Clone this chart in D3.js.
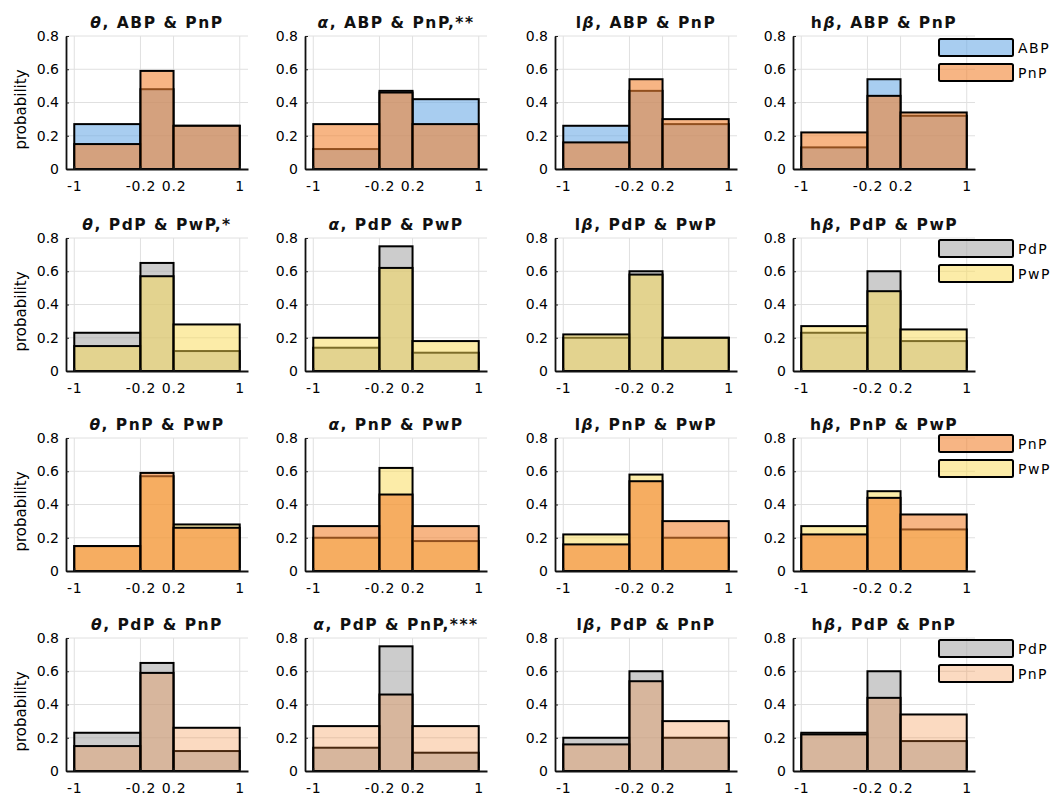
<!DOCTYPE html>
<html>
<head>
<meta charset="UTF-8">
<title>Histograms</title>
<style>
  body { margin: 0; background: #fff; }
  text { font-family: "DejaVu Sans", sans-serif; fill: #111; }
</style>
</head>
<body>
<div id="chart"></div>
<script src="https://d3js.org/d3.v7.min.js"></script>
<script>
// columns = bands, bins are the same everywhere
var bands = ["θ", "α", "lβ", "hβ"];
var binEdges = [-1, -0.2, 0.2, 1];
var xTicks = [-1, -0.2, 0.2, 1];
var yTicks = [0, 0.2, 0.4, 0.6, 0.8];

// probability of each bin, one line per band (θ, α, lβ, hβ)
var ABP = [[0.27, 0.48, 0.26], [0.12, 0.47, 0.42], [0.26, 0.47, 0.27], [0.13, 0.54, 0.32]];
var PnP = [[0.15, 0.59, 0.26], [0.27, 0.46, 0.27], [0.16, 0.54, 0.30], [0.22, 0.44, 0.34]];
var PdP = [[0.23, 0.65, 0.12], [0.14, 0.75, 0.11], [0.20, 0.60, 0.20], [0.23, 0.60, 0.18]];
var PwP = [[0.15, 0.57, 0.28], [0.20, 0.62, 0.18], [0.22, 0.58, 0.20], [0.27, 0.48, 0.25]];
var groups = { ABP: ABP, PnP: PnP, PdP: PdP, PwP: PwP };

// rows: pair in the title, drawing order (first is under), legend order
var rowTitles = ["ABP & PnP", "PdP & PwP", "PnP & PwP", "PdP & PnP"];
var rowOrder = [["ABP", "PnP"], ["PdP", "PwP"], ["PwP", "PnP"], ["PdP", "PnP"]];
var rowLegend = [["ABP", "PnP"], ["PdP", "PwP"], ["PnP", "PwP"], ["PdP", "PnP"]];
var stars = [["", ",**", "", ""], [",*", "", "", ""], ["", "", "", ""], ["", ",***", "", ""]];

// look
var fills = { ABP: "#6eace6", PnP: "#f28432", PdP: "#aaaaaa", PwP: "#f9d951" };
var alphas = [
  { ABP: 0.6, PnP: 0.6 },
  { PdP: 0.6, PwP: 0.5 },
  { PwP: 0.5, PnP: 0.6 },
  { PdP: 0.6, PnP: 0.3 }
];

var width = 1063, height = 796;
var colX = [66, 305, 555, 793];
var rowY = [36, 238, 438, 638];
var plotW = 182, plotH = 133;
var legendDy = [3, 2, -3, 2];

var svg = d3.select("#chart").append("svg")
  .attr("width", width)
  .attr("height", height);

var x = d3.scaleLinear().domain([-1.1, 1.1]).range([0, plotW]);
var y = d3.scaleLinear().domain([0, 0.8]).range([plotH, 0]);

function binsOf(vals) {
  return vals.map(function (v, i) {
    return { x0: binEdges[i], x1: binEdges[i + 1], v: v };
  });
}

rowOrder.forEach(function (order, r) {
  bands.forEach(function (band, c) {
    var g = svg.append("g")
      .attr("transform", "translate(" + colX[c] + "," + rowY[r] + ")");

    // grid
    g.append("g").selectAll("line.h")
      .data(yTicks.slice(1))
      .enter().append("line")
      .attr("x1", 0).attr("x2", plotW)
      .attr("y1", function (d) { return y(d); })
      .attr("y2", function (d) { return y(d); })
      .style("stroke", "#e0e0e0").style("stroke-width", 1);
    g.append("g").selectAll("line.v")
      .data(xTicks)
      .enter().append("line")
      .attr("y1", 0).attr("y2", plotH)
      .attr("x1", function (d) { return x(d); })
      .attr("x2", function (d) { return x(d); })
      .style("stroke", "#e0e0e0").style("stroke-width", 1);

    // the two histograms
    order.forEach(function (name) {
      g.append("g").selectAll("rect")
        .data(binsOf(groups[name][c]))
        .enter().append("rect")
        .attr("x", function (d) { return x(d.x0); })
        .attr("width", function (d) { return x(d.x1) - x(d.x0); })
        .attr("y", function (d) { return y(d.v); })
        .attr("height", function (d) { return y(0) - y(d.v); })
        .style("fill", fills[name])
        .style("fill-opacity", alphas[r][name])
        .style("stroke", "#000")
        .style("stroke-width", 2);
    });

    // axes
    var ya = g.append("g")
      .call(d3.axisLeft(y).tickValues(yTicks)
        .tickFormat(function (d) { return d === 0 ? "0" : d3.format(".1f")(d); })
        .tickSizeInner(-3).tickSizeOuter(0).tickPadding(7));
    var xa = g.append("g")
      .attr("transform", "translate(0," + plotH + ")")
      .call(d3.axisBottom(x).tickValues(xTicks)
        .tickFormat(function (d) { return String(d); })
        .tickSizeInner(-3).tickSizeOuter(0).tickPadding(12));
    [ya, xa].forEach(function (a) {
      a.attr("font-family", null).attr("font-size", null);
      a.select(".domain").style("stroke", "#111").style("stroke-width", 1.8);
      a.selectAll(".tick line").style("stroke", "#222");
      a.selectAll("text").style("font-size", "14px").style("fill", "#000");
    });
    xa.selectAll("text").style("letter-spacing", "0.8px");

    // title
    var t = g.append("text")
      .attr("x", plotW / 2)
      .attr("y", -8)
      .attr("text-anchor", "middle")
      .style("font-weight", "bold")
      .style("font-size", "15.5px")
      .style("letter-spacing", "1.5px");
    var label = band + ", " + rowTitles[r] + stars[r][c];
    Array.from(label).forEach(function (ch) {
      t.append("tspan")
        .style("font-style", /[α-ω]/.test(ch) ? "italic" : "normal")
        .text(ch);
    });

    if (c === 0) {
      g.append("text")
        .attr("transform", "translate(" + (-40) + "," + (plotH / 2 + 7) + ") rotate(-90)")
        .attr("text-anchor", "middle")
        .style("font-size", "15px")
        .style("fill", "#000")
        .text("probability");
    }

    if (c === 3) {
      var lg = g.append("g")
        .attr("transform", "translate(146," + legendDy[r] + ")");
      var items = lg.selectAll("g")
        .data(rowLegend[r])
        .enter().append("g")
        .attr("transform", function (d, i) { return "translate(0," + i * 25 + ")"; });
      items.append("rect")
        .attr("width", 74).attr("height", 17)
        .attr("rx", 1.5)
        .style("fill", function (d) { return fills[d]; })
        .style("fill-opacity", function (d) { return alphas[r][d]; })
        .style("stroke", "#000")
        .style("stroke-width", 2);
      items.append("text")
        .attr("x", 79).attr("y", 14)
        .style("font-size", "14px")
        .style("letter-spacing", "1.5px")
        .style("fill", "#000")
        .text(function (d) { return d; });
    }
  });
});
</script>
</body>
</html>
